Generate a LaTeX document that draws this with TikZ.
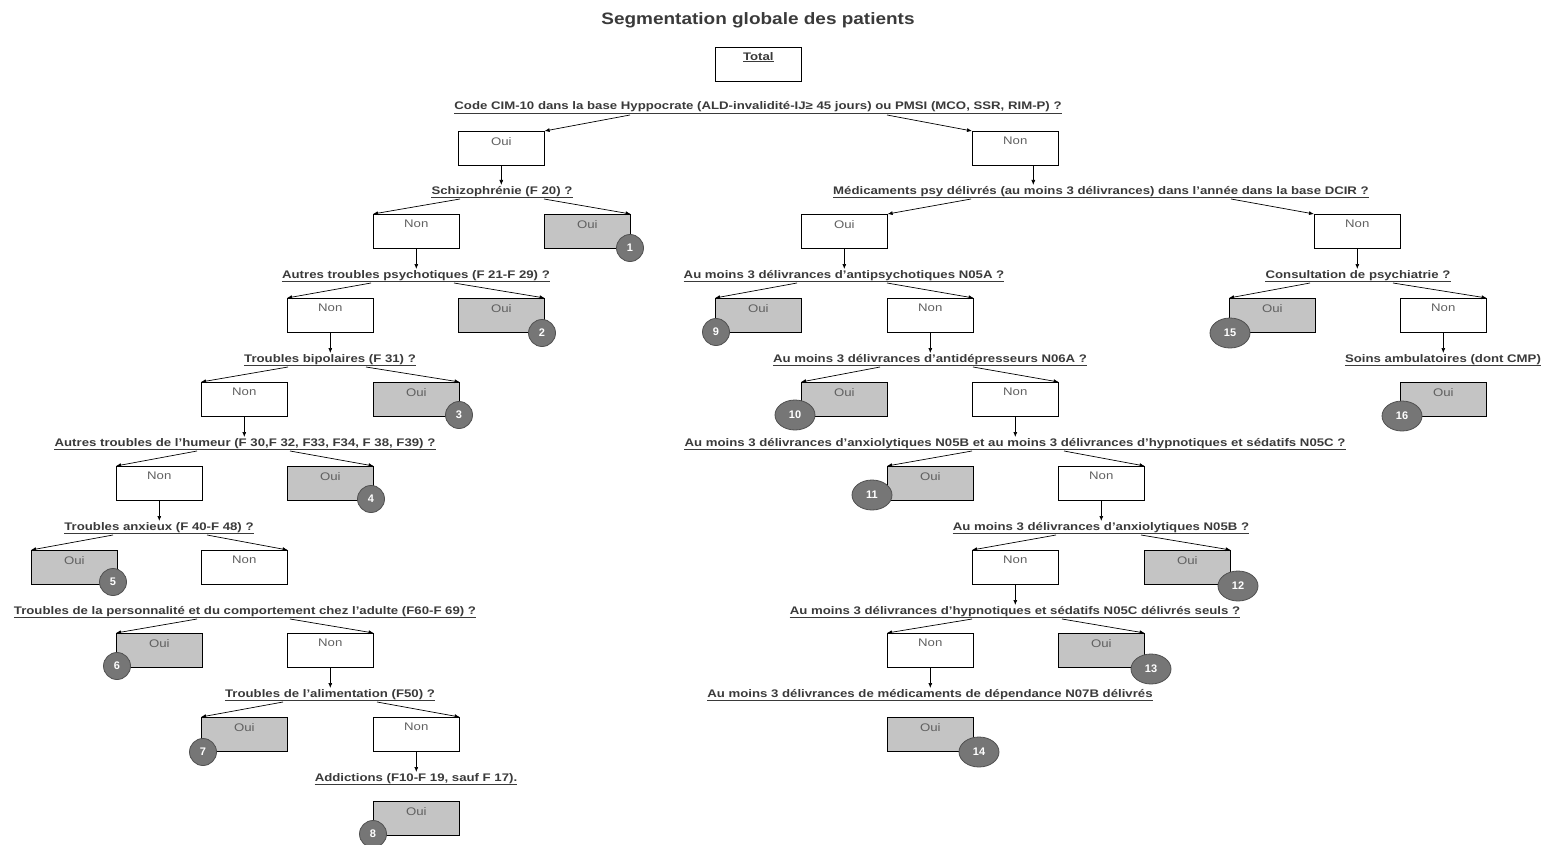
\documentclass[tikz,border=0pt]{standalone}
\usepackage{fontspec}
\setmainfont{Liberation Sans}
\newfontfamily\qfont[FakeStretch=1.2]{Liberation Sans}
\newfontfamily\tfont[FakeStretch=1.15]{Liberation Sans}
\usetikzlibrary{arrows.meta,calc,shapes.geometric}
\definecolor{qtxt}{HTML}{3A3A3A}
\definecolor{btxt}{HTML}{606060}
\definecolor{gfill}{HTML}{C4C4C4}
\definecolor{bdg}{HTML}{767676}
\definecolor{bdgedge}{HTML}{505050}
\newcommand\Qn[4]{%
  \node[qst] (#1) at (#2,#3) {#4};
  \draw[uline] ($(#1.base west)+(0,3)$) -- ($(#1.base east)+(0,3)$);}
\begin{document}
\begin{tikzpicture}[x=1pt,y=-1pt,
  qst/.style={font=\qfont\bfseries\fontsize{11}{13}\selectfont, text=qtxt, inner sep=0pt, anchor=base},
  uline/.style={draw=qtxt, line width=0.9pt},
  bx/.style={draw=black, line width=0.6pt, minimum width=86pt, minimum height=34pt, anchor=north west, inner sep=0pt,
    label={[anchor=north, yshift=-6pt, inner sep=0pt, text=btxt, font=\qfont\fontsize{11}{12}\selectfont]north:#1}},
  gbx/.style={bx=#1, fill=gfill},
  arr/.style={draw=black, line width=0.7pt, -{Latex[length=5pt,width=4pt]}},
  badge/.style={circle, fill=bdg, draw=bdgedge, line width=0.8pt, minimum size=27pt, inner sep=0pt, text=white, font=\bfseries\fontsize{11}{12}\selectfont},
  badgew/.style={ellipse, fill=bdg, draw=bdgedge, line width=0.8pt, minimum width=40pt, minimum height=30pt, inner sep=0pt, text=white, font=\bfseries\fontsize{11}{12}\selectfont},
  shadowedge/.style={draw=black, line width=1.4pt}
]
\useasboundingbox (0,0) rectangle (1549,845);

% title
\node[font=\tfont\bfseries\fontsize{16.5}{18}\selectfont, text=qtxt, inner sep=0pt] (title) at (758,20) {Segmentation globale des patients};

% total
\node[draw=black, line width=0.6pt, minimum width=86pt, minimum height=34pt, anchor=north west, inner sep=0pt] (total) at (715,47) {};
\node[anchor=north, inner sep=0pt, text=qtxt, font=\qfont\bfseries\fontsize{11}{12}\selectfont] (totallbl) at ($(total.north)+(0,5)$) {\underline{Total}};

% questions
\Qn{q1}{758}{110}{Code CIM-10 dans la base Hyppocrate (ALD-invalidité-IJ≥ 45 jours) ou PMSI (MCO, SSR, RIM-P) ?}
\Qn{q2}{502}{194}{Schizophrénie (F 20) ?}
\Qn{q3}{416}{278}{Autres troubles psychotiques (F 21-F 29) ?}
\Qn{q4}{330}{362}{Troubles bipolaires (F 31) ?}
\Qn{q5}{245}{446}{Autres troubles de l’humeur (F 30,F 32, F33, F34, F 38, F39) ?}
\Qn{q6}{159}{530}{Troubles anxieux (F 40-F 48) ?}
\Qn{q7}{245}{614}{Troubles de la personnalité et du comportement chez l’adulte (F60-F 69) ?}
\Qn{q8}{330}{697}{Troubles de l’alimentation  (F50) ?}
\Qn{q9}{416}{781}{Addictions (F10-F 19, sauf F 17).}
\Qn{q10}{1101}{194}{Médicaments psy délivrés (au moins 3 délivrances) dans l’année dans la base DCIR ?}
\Qn{q11}{844}{278}{Au moins 3 délivrances d’antipsychotiques N05A ?}
\Qn{q12}{930}{362}{Au moins 3 délivrances d’antidépresseurs N06A ?}
\Qn{q13}{1015}{446}{Au moins 3 délivrances d’anxiolytiques N05B et au moins 3 délivrances d’hypnotiques et sédatifs N05C ?}
\Qn{q14}{1101}{530}{Au moins 3 délivrances d’anxiolytiques N05B ?}
\Qn{q15}{1015}{614}{Au moins 3 délivrances d’hypnotiques et sédatifs N05C délivrés seuls ?}
\Qn{q16}{930}{697}{Au moins 3 délivrances de médicaments de dépendance N07B délivrés}
\Qn{q17}{1358}{278}{Consultation de psychiatrie ?}
\Qn{q18}{1443}{362}{Soins ambulatoires (dont CMP)}

% boxes
\node[bx=Oui] (b1o) at (458,131) {};
\node[bx=Non] (b1n) at (972,131) {};
\node[bx=Non] (b2n) at (373,214) {};
\node[gbx=Oui] (b2o) at (544,214) {};
\node[bx=Non] (b3n) at (287,298) {};
\node[gbx=Oui] (b3o) at (458,298) {};
\node[bx=Non] (b4n) at (201,382) {};
\node[gbx=Oui] (b4o) at (373,382) {};
\node[bx=Non] (b5n) at (116,466) {};
\node[gbx=Oui] (b5o) at (287,466) {};
\node[gbx=Oui] (b6o) at (31,550) {};
\node[bx=Non] (b6n) at (201,550) {};
\node[gbx=Oui] (b7o) at (116,633) {};
\node[bx=Non] (b7n) at (287,633) {};
\node[gbx=Oui] (b8o) at (201,717) {};
\node[bx=Non] (b8n) at (373,717) {};
\node[gbx=Oui] (b9o) at (373,801) {};
\node[bx=Oui] (b10o) at (801,214) {};
\node[bx=Non] (b10n) at (1314,214) {};
\node[gbx=Oui] (b11o) at (715,298) {};
\node[bx=Non] (b11n) at (887,298) {};
\node[gbx=Oui] (b12o) at (801,382) {};
\node[bx=Non] (b12n) at (972,382) {};
\node[gbx=Oui] (b13o) at (887,466) {};
\node[bx=Non] (b13n) at (1058,466) {};
\node[bx=Non] (b14n) at (972,550) {};
\node[gbx=Oui] (b14o) at (1144,550) {};
\node[bx=Non] (b15n) at (887,633) {};
\node[gbx=Oui] (b15o) at (1058,633) {};
\node[gbx=Oui] (b16o) at (887,717) {};
\node[gbx=Oui] (b17o) at (1229,298) {};
\node[bx=Non] (b17n) at (1400,298) {};
\node[gbx=Oui] (b18o) at (1400,382) {};

% thicker bottom/right edges
\foreach \b in {b1o,b1n,b2n,b2o,b3n,b3o,b4n,b4o,b5n,b5o,b6o,b6n,b7o,b7n,b8o,b8n,b9o,b10o,b10n,b11o,b11n,b12o,b12n,b13o,b13n,b14n,b14o,b15n,b15o,b16o,b17o,b17n,b18o}
  \draw[shadowedge] (\b.south west) -- (\b.south east) -- (\b.north east);

% diagonal connectors
\draw[arr] ($(q1.base)+(-128,5)$) -- (b1o.north east);
\draw[arr] ($(q1.base)+(129,5)$) -- (b1n.north west);
\draw[arr] ($(q2.base)+(-42,5)$) -- (b2n.north west);
\draw[arr] ($(q2.base)+(42,5)$) -- (b2o.north east);
\draw[arr] ($(q3.base)+(-45,5)$) -- (b3n.north west);
\draw[arr] ($(q3.base)+(38,5)$) -- (b3o.north east);
\draw[arr] ($(q4.base)+(-42,5)$) -- (b4n.north west);
\draw[arr] ($(q4.base)+(36,5)$) -- (b4o.north east);
\draw[arr] ($(q5.base)+(-48,5)$) -- (b5n.north west);
\draw[arr] ($(q5.base)+(45,5)$) -- (b5o.north east);
\draw[arr] ($(q6.base)+(-46,5)$) -- (b6o.north west);
\draw[arr] ($(q6.base)+(48,5)$) -- (b6n.north east);
\draw[arr] ($(q7.base)+(-48,5)$) -- (b7o.north west);
\draw[arr] ($(q7.base)+(45,5)$) -- (b7n.north east);
\draw[arr] ($(q8.base)+(-47,5)$) -- (b8o.north west);
\draw[arr] ($(q8.base)+(47,5)$) -- (b8n.north east);
\draw[arr] ($(q10.base)+(-130,5)$) -- (b10o.north east);
\draw[arr] ($(q10.base)+(130,5)$) -- (b10n.north west);
\draw[arr] ($(q11.base)+(-47,5)$) -- (b11o.north west);
\draw[arr] ($(q11.base)+(43,5)$) -- (b11n.north east);
\draw[arr] ($(q12.base)+(-50,5)$) -- (b12o.north west);
\draw[arr] ($(q12.base)+(43,5)$) -- (b12n.north east);
\draw[arr] ($(q13.base)+(-43,5)$) -- (b13o.north west);
\draw[arr] ($(q13.base)+(49,5)$) -- (b13n.north east);
\draw[arr] ($(q14.base)+(-45,5)$) -- (b14n.north west);
\draw[arr] ($(q14.base)+(40,5)$) -- (b14o.north east);
\draw[arr] ($(q15.base)+(-43,5)$) -- (b15n.north west);
\draw[arr] ($(q15.base)+(47,5)$) -- (b15o.north east);
\draw[arr] ($(q17.base)+(-48,5)$) -- (b17o.north west);
\draw[arr] ($(q17.base)+(35,5)$) -- (b17n.north east);

% down connectors
\draw[arr] (b1o.south) -- ($(b1o.south |- q2.base)+(0,-9)$);
\draw[arr] ($(b1n.south)+(18,0)$) -- ($(b1n.south |- q10.base)+(18,-9)$);
\draw[arr] (b2n.south) -- ($(b2n.south |- q3.base)+(0,-9)$);
\draw[arr] (b3n.south) -- ($(b3n.south |- q4.base)+(0,-9)$);
\draw[arr] (b4n.south) -- ($(b4n.south |- q5.base)+(0,-9)$);
\draw[arr] (b5n.south) -- ($(b5n.south |- q6.base)+(0,-9)$);
\draw[arr] (b7n.south) -- ($(b7n.south |- q8.base)+(0,-9)$);
\draw[arr] (b8n.south) -- ($(b8n.south |- q9.base)+(0,-9)$);
\draw[arr] (b10o.south) -- ($(b10o.south |- q11.base)+(0,-9)$);
\draw[arr] (b10n.south) -- ($(b10n.south |- q17.base)+(0,-9)$);
\draw[arr] (b11n.south) -- ($(b11n.south |- q12.base)+(0,-9)$);
\draw[arr] (b12n.south) -- ($(b12n.south |- q13.base)+(0,-9)$);
\draw[arr] (b13n.south) -- ($(b13n.south |- q14.base)+(0,-9)$);
\draw[arr] (b14n.south) -- ($(b14n.south |- q15.base)+(0,-9)$);
\draw[arr] (b15n.south) -- ($(b15n.south |- q16.base)+(0,-9)$);
\draw[arr] (b17n.south) -- ($(b17n.south |- q18.base)+(0,-9)$);

% badges
\node[badge] (n1) at (630,248) {1};
\node[badge] (n2) at (542,333) {2};
\node[badge] (n3) at (459,415) {3};
\node[badge] (n4) at (371,499) {4};
\node[badge] (n5) at (113,582) {5};
\node[badge] (n6) at (117,666) {6};
\node[badge] (n7) at (203,752) {7};
\node[badge] (n8) at (373,834) {8};
\node[badge] (n9) at (716,332) {9};
\node[badgew] (n10) at (795,415) {10};
\node[badgew] (n11) at (872,495) {11};
\node[badgew] (n12) at (1238,586) {12};
\node[badgew] (n13) at (1151,669) {13};
\node[badgew] (n14) at (979,752) {14};
\node[badgew] (n15) at (1230,333) {15};
\node[badgew] (n16) at (1402,416) {16};
\end{tikzpicture}
\end{document}
